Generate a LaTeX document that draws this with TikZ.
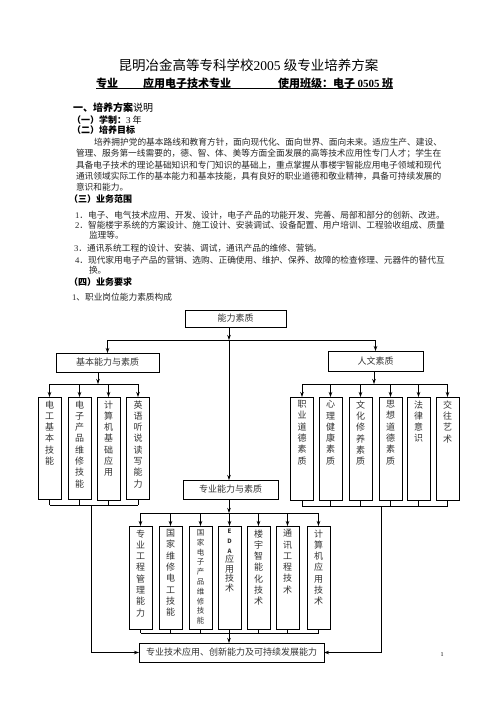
\documentclass[tikz,border=0pt]{standalone}
\usepackage{fontspec}
\setmainfont{Liberation Serif}
\newfontfamily\cjk{Noto Sans CJK SC}
\usetikzlibrary{arrows.meta}
\newcommand\num[1]{{\rmfamily #1}}
\newcommand\vcol[2][102pt]{\parbox[c][#1][t]{22pt}{\centering\vspace*{3.5pt}#2\par}}

\begin{document}
\begin{tikzpicture}[x=1pt, y=-1pt,
  every node/.style={inner sep=0pt, outer sep=0pt, font=\cjk},
  txt/.style={anchor=base west, font=\cjk\fontsize{8.7}{10}\selectfont, text=black!85},
  head/.style={anchor=base west, font=\cjk\bfseries\fontsize{9}{10}\selectfont},
  sub/.style={anchor=base west, font=\cjk\bfseries\fontsize{11}{12}\selectfont},
  hbox/.style={draw, line width=0.8pt, font=\cjk\fontsize{9}{10}\selectfont, text=black!80},
  col/.style={draw, line width=0.8pt, minimum width=23pt, font=\cjk\fontsize{9}{11.3}\selectfont, text=black!80},
  link/.style={line width=0.8pt},
  arr/.style={line width=0.8pt, -{Stealth[length=5pt,width=3.5pt]}}]
  \useasboundingbox (0,0) rectangle (496,702);

  % heading
  \node[anchor=base, font=\cjk\fontsize{13.5}{15}\selectfont] (title) at (248.5,70) {昆明冶金高等专科学校\num{2005} 级专业培养方案};
  \node[sub] (major) at (96,87) {专业};
  \node[sub] (majorname) at (143,87) {应用电子技术专业};
  \node[sub] (class) at (278,87) {使用班级：电子 \num{\bfseries 0505} 班};
  \draw[line width=0.9pt] (major.south west) -- (class.south east |- major.south west);

  % text
  \node[head, font=\cjk\bfseries\fontsize{10}{11}\selectfont] (s1) at (73,111.5) {一、培养方案\mdseries 说明};
  \node[head] (s1a) at (72,123.5) {（一）学制：\mdseries\num{3} 年};
  \node[head] (s1b) at (72,133.5) {（二）培养目标};
  \node[txt] (p1) at (94,145.5) {培养拥护党的基本路线和教育方针，面向现代化、面向世界、面向未来。适应生产、建设、};
  \node[txt] (p2) at (76,156.75) {管理、服务第一线需要的，德、智、体、美等方面全面发展的高等技术应用性专门人才；学生在};
  \node[txt] (p3) at (76,168) {具备电子技术的理论基础知识和专门知识的基础上，重点掌握从事楼宇智能应用电子领域和现代};
  \node[txt] (p4) at (76,179.25) {通讯领域实际工作的基本能力和基本技能，具有良好的职业道德和敬业精神，具备可持续发展的};
  \node[txt] (p5) at (76,190.5) {意识和能力。};
  \node[head] (s3) at (69,202.5) {（三）业务范围};
  \node[txt] (i1) at (75,218.5) {\num{1}．电子、电气技术应用、开发、设计，电子产品的功能开发、完善、局部和部分的创新、改进。};
  \node[txt] (i2) at (75,228.5) {\num{2}．智能楼宇系统的方案设计、施工设计、安装调试、设备配置、用户培训、工程验收组成、质量};
  \node[txt] (i2b) at (89,238.5) {监理等。};
  \node[txt] (i3) at (74,251.5) {\num{3}．通讯系统工程的设计、安装、调试，通讯产品的维修、营销。};
  \node[txt] (i4) at (75,263.5) {\num{4}．现代家用电子产品的营销、选购、正确使用、维护、保养、故障的检查修理、元器件的替代互};
  \node[txt] (i4b) at (89,273.5) {换。};
  \node[head] (s4) at (69,285) {（四）业务要求};
  \node[txt] (req) at (72,300) {\num{1}、职业岗位能力素质构成};

  % boxes
  \node[hbox, minimum width=101pt, minimum height=17pt] (ability) at (235.5,318.5) {能力素质};
  \node[hbox, minimum width=103pt, minimum height=19pt] (basic) at (107.5,362.5) {基本能力与素质};
  \node[hbox, minimum width=95pt, minimum height=20pt] (human) at (375.5,361) {人文素质};
  \node[hbox, minimum width=95pt, minimum height=19pt] (prof) at (230.5,489.5) {专业能力与素质};
  \node[hbox, minimum width=185pt, minimum height=19pt] (sum) at (231.5,652.5) {专业技术应用、创新能力及可持续发展能力};

  \node[col] (l1) at (49.5,448) {\vcol{电\\工\\基\\本\\技\\能}};
  \node[col] (l2) at (79.5,448) {\vcol{电\\子\\产\\品\\维\\修\\技\\能}};
  \node[col] (l3) at (108.5,448.5) {\vcol[103pt]{计\\算\\机\\基\\础\\应\\用}};
  \node[col] (l4) at (138,448) {\vcol{英\\语\\听\\说\\读\\写\\能\\力}};

  \node[col] (r1) at (302,448.5) {\vcol[103pt]{职\\业\\道\\德\\素\\质}};
  \node[col] (r2) at (330.5,448.5) {\vcol[103pt]{心\\理\\健\\康\\素\\质}};
  \node[col] (r3) at (360.5,448.5) {\vcol[103pt]{文\\化\\修\\养\\素\\质}};
  \node[col] (r4) at (390.5,448.5) {\vcol[103pt]{思\\想\\道\\德\\素\\质}};
  \node[col] (r5) at (418.5,448.5) {\vcol[103pt]{法\\律\\意\\识}};
  \node[col] (r6) at (447.5,448.5) {\vcol[103pt]{交\\往\\艺\\术}};

  \node[col] (m1) at (140.5,577.5) {\vcol[103pt]{专\\业\\工\\程\\管\\理\\能\\力}};
  \node[col] (m2) at (170.5,577.5) {\vcol[103pt]{国\\家\\维\\修\\电\\工\\技\\能}};
  \node[col, font=\cjk\fontsize{7.5}{9.8}\selectfont] (m3) at (200.5,577.5) {\vcol[103pt]{国\\家\\电\\子\\产\\品\\维\\修\\技\\能}};
  \node[col, font=\cjk\fontsize{9}{9.6}\selectfont] (m4) at (229.5,577.5) {\vcol[103pt]{{\fontsize{6}{9.6}\selectfont\bfseries E}\\{\fontsize{6}{9.6}\selectfont\bfseries D}\\{\fontsize{6}{9.6}\selectfont\bfseries A}\\应\\用\\技\\术}};
  \node[col] (m5) at (258.5,577.5) {\vcol[103pt]{楼\\宇\\智\\能\\化\\技\\术}};
  \node[col] (m6) at (287.5,577.5) {\vcol[103pt]{通\\讯\\工\\程\\技\\术}};
  \node[col] (m7) at (318.5,577.5) {\vcol[103pt]{计\\算\\机\\应\\用\\技\\术}};

  \node[font=\rmfamily\fontsize{6}{7}\selectfont] (page) at (442,655) {1};

  % connectors
  \coordinate (trunk) at (229,340);
  \coordinate (lbus) at (98,384);
  \coordinate (rbus) at (374,384);
  \coordinate (mbus) at (229,513);
  \coordinate (lfoot) at (91,505);
  \coordinate (rfoot) at (381,506);
  \coordinate (mfoot) at (229,633);

  \draw[arr] (ability.south -| trunk) -- (trunk);
  \draw[link] (basic.north |- trunk) -- (human.north |- trunk);
  \draw[arr] (basic.north |- trunk) -- (basic.north);
  \draw[arr] (human.north |- trunk) -- (human.north);
  \draw[arr] (trunk) -- (prof.north -| trunk);

  \draw[arr] (basic.south -| lbus) -- (lbus);
  \draw[link] (l1.north |- lbus) -- (l4.north |- lbus);
  \foreach \c in {l1,l2,l3,l4} \draw[arr] (\c.north |- lbus) -- (\c.north);
  \draw[link] (l1.south |- lfoot) -- (l4.south |- lfoot);
  \foreach \c in {l1,l2,l3,l4} \draw[link] (\c.south) -- (\c.south |- lfoot);
  \draw[arr] (lfoot) |- (sum.west);

  \draw[arr] (human.south -| rbus) -- (rbus);
  \draw[link] (r1.north |- rbus) -- (r6.north |- rbus);
  \foreach \c in {r1,r2,r3,r4,r5,r6} \draw[arr] (\c.north |- rbus) -- (\c.north);
  \draw[link] (r1.south |- rfoot) -- (r6.south |- rfoot);
  \foreach \c in {r1,r2,r3,r4,r5,r6} \draw[link] (\c.south) -- (\c.south |- rfoot);
  \draw[arr] (rfoot) |- (sum.east);

  \draw[arr] (prof.south -| mbus) -- (mbus);
  \draw[link] (m1.north |- mbus) -- (m7.north |- mbus);
  \foreach \c in {m1,m2,m3,m4,m5,m6,m7} \draw[arr] (\c.north |- mbus) -- (\c.north);
  \draw[link] (m1.south |- mfoot) -- (m7.south |- mfoot);
  \foreach \c in {m1,m2,m3,m4,m5,m6,m7} \draw[link] (\c.south) -- (\c.south |- mfoot);
  \draw[arr] (mfoot) -- (sum.north -| mfoot);
\end{tikzpicture}
\end{document}
